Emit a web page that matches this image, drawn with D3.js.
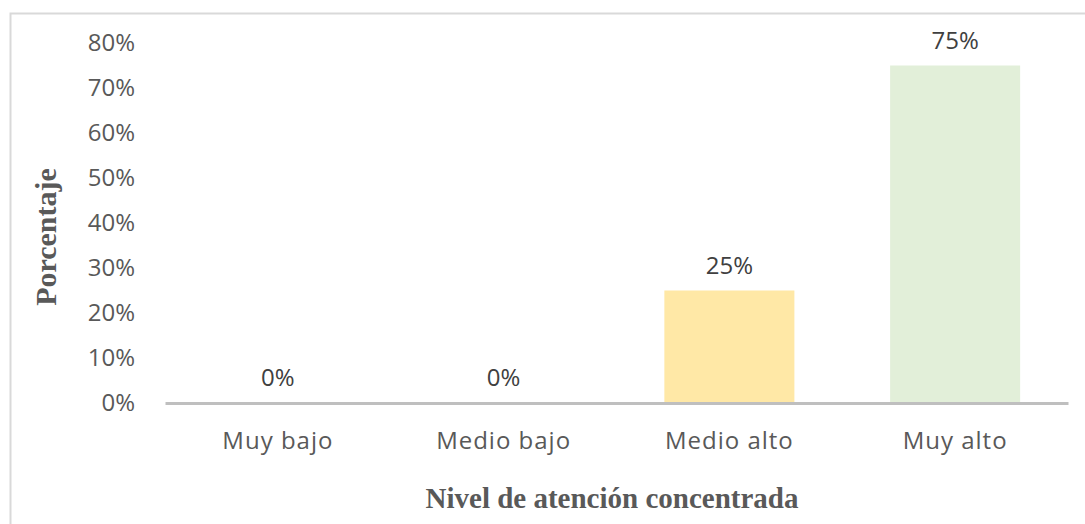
<!DOCTYPE html>
<html>
<head>
<meta charset="utf-8">
<script src="https://cdn.jsdelivr.net/npm/d3@7"></script>
<style>
  body { margin: 0; background: #fff; }
</style>
</head>
<body>
<div id="chart"></div>
<script>
// data
var categories = ["Muy bajo", "Medio bajo", "Medio alto", "Muy alto"];
var values = [0, 0, 25, 75];
var barColors = ["#9DC3E6", "#F4B183", "#FFE8A6", "#E2EFD9"];
var yTicks = [0, 10, 20, 30, 40, 50, 60, 70, 80];

var W = 1085, H = 524;
var margin = {top: 43, right: 17, bottom: 121, left: 165},
  width = W - margin.left - margin.right,
  height = H - margin.top - margin.bottom;

var svg = d3.select("#chart")
  .append("svg")
  .attr("width", W)
  .attr("height", H);

// outer chart border (only top and left visible in the crop)
svg.append("path")
  .attr("d", "M10.5,524 L10.5,13.5 L1085,13.5")
  .style("fill", "none")
  .style("stroke", "#D9D9D9")
  .style("stroke-width", 2);

var g = svg.append("g")
  .attr("transform", "translate(" + margin.left + "," + margin.top + ")");

var x = d3.scaleBand()
  .domain(categories)
  .range([0, width])
  .paddingInner(0.424)
  .paddingOuter(0.212);

var y = d3.scaleLinear()
  .domain([0, 80])
  .range([height, 0]);

var sans = "'Open Sans', sans-serif";

// y tick labels
var yAxis = g.append("g")
  .call(d3.axisLeft(y).tickValues(yTicks).tickFormat(function(d) { return d + "%"; }).tickSize(0).tickPadding(30));
yAxis.select(".domain").remove();
yAxis.selectAll("text")
  .style("font-family", sans)
  .style("font-size", "24px")
  .style("fill", "#595959");

// bars
g.selectAll(".bar")
  .data(values)
  .enter()
  .append("rect")
  .attr("class", "bar")
  .attr("x", function(d, i) { return x(categories[i]); })
  .attr("y", function(d) { return y(d); })
  .attr("width", x.bandwidth())
  .attr("height", function(d) { return height - y(d); })
  .style("fill", function(d, i) { return barColors[i]; });

// value labels
g.selectAll(".lbl")
  .data(values)
  .enter()
  .append("text")
  .attr("class", "lbl")
  .attr("x", function(d, i) { return x(categories[i]) + x.bandwidth() / 2; })
  .attr("y", function(d) { return y(d) - 17; })
  .attr("text-anchor", "middle")
  .style("font-family", sans)
  .style("font-size", "24px")
  .style("fill", "#404040")
  .text(function(d) { return d + "%"; });

// x axis
var xAxis = g.append("g")
  .attr("transform", "translate(0," + height + ")")
  .call(d3.axisBottom(x).tickSize(0).tickPadding(29));
xAxis.select(".domain")
  .style("stroke", "#BFBFBF")
  .style("stroke-width", 3);
xAxis.selectAll("text")
  .style("font-family", sans)
  .style("font-size", "24px")
  .style("letter-spacing", "1px")
  .style("fill", "#595959");

// axis titles
svg.append("text")
  .attr("transform", "translate(56,237) rotate(-90)")
  .attr("text-anchor", "middle")
  .style("font-family", "'Liberation Serif', serif")
  .style("font-weight", "bold")
  .style("font-size", "30px")
  .style("fill", "#595959")
  .text("Porcentaje");

svg.append("text")
  .attr("x", 612)
  .attr("y", 508)
  .attr("text-anchor", "middle")
  .style("font-family", "'Liberation Serif', serif")
  .style("font-weight", "bold")
  .style("font-size", "29px")
  .style("fill", "#595959")
  .text("Nivel de atención concentrada");
</script>
</body>
</html>
